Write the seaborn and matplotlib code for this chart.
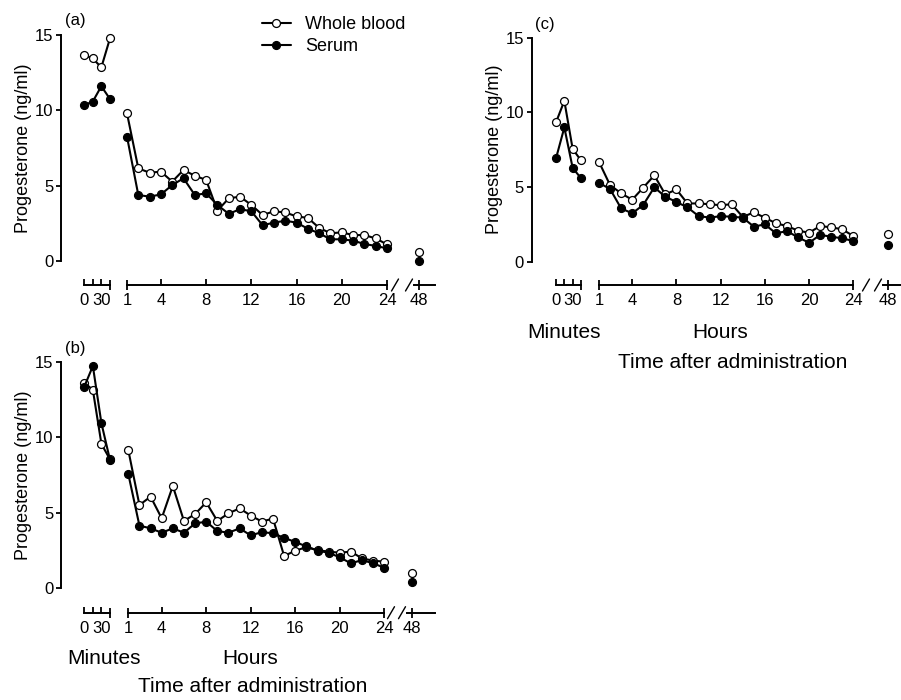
import matplotlib
matplotlib.use("Agg")
import matplotlib.pyplot as plt
from matplotlib.lines import Line2D
import seaborn as sns

# sampling times: minutes after dosing, hourly samples, and the 48 h sample
minutes = [0, 15, 30, 45]
hours = list(range(1, 25))
late = [48]

# panel (a)
a_whole_min = [13.67, 13.45, 12.85, 14.78]
a_serum_min = [10.35, 10.57, 11.6, 10.75]
a_whole_hr = [9.8, 6.15, 5.86, 5.93, 5.27, 6.04, 5.66, 5.38, 3.34, 4.16, 4.27, 3.72,
              3.05, 3.3, 3.22, 2.96, 2.86, 2.2, 1.84, 1.9, 1.72, 1.72, 1.5, 1.1]
a_serum_hr = [8.25, 4.38, 4.27, 4.42, 5.04, 5.49, 4.38, 4.49, 3.72, 3.13, 3.44, 3.3,
              2.37, 2.55, 2.67, 2.55, 2.14, 1.84, 1.44, 1.44, 1.35, 1.13, 1.0, 0.84]
a_whole_48 = [0.58]
a_serum_48 = [0.02]

# panel (b)
b_whole_min = [13.65, 13.16, 9.56, 8.54]
b_serum_min = [13.38, 14.75, 10.94, 8.5]
b_whole_hr = [9.16, 5.5, 6.06, 4.62, 6.77, 4.44, 4.9, 5.68, 4.44, 4.95, 5.28, 4.8,
              4.4, 4.6, 2.11, 2.46, 2.7, 2.5, 2.4, 2.33, 2.4, 1.95, 1.8, 1.73]
b_serum_hr = [7.57, 4.13, 3.95, 3.66, 3.95, 3.66, 4.28, 4.39, 3.77, 3.66, 3.95, 3.48,
              3.7, 3.62, 3.32, 3.04, 2.75, 2.46, 2.33, 2.02, 1.62, 1.84, 1.62, 1.33]
b_whole_48 = [0.96]
b_serum_48 = [0.4]

# panel (c)
c_whole_min = [9.33, 10.77, 7.55, 6.78]
c_serum_min = [6.92, 8.99, 6.28, 5.59]
c_whole_hr = [6.68, 5.13, 4.58, 4.15, 4.96, 5.78, 4.5, 4.84, 3.9, 3.9, 3.85, 3.78,
              3.85, 3.0, 3.3, 2.95, 2.57, 2.39, 2.08, 1.94, 2.39, 2.3, 2.17, 1.72]
c_serum_hr = [5.28, 4.87, 3.57, 3.24, 3.8, 4.98, 4.35, 4.0, 3.64, 3.06, 2.95, 3.05,
              3.01, 2.95, 2.35, 2.5, 1.9, 2.05, 1.63, 1.27, 1.79, 1.68, 1.56, 1.39]
c_whole_48 = [1.83]
c_serum_48 = [1.12]

FIG_W, FIG_H = 901, 700

# where each panel sits, in pixels of the 901x700 figure
layout = {
    "a": dict(yx=61, y0=261, y15=35, xy=285, m0=84, m45=110, h1=127, h24=387,
              h48=419, end=435, brk=(395, 409), tag=(65, 21)),
    "b": dict(yx=61, y0=587.7, y15=362.3, xy=612.7, m0=84.3, m45=110, h1=128.3,
              h24=384.3, h48=412, end=435, brk=(391, 402), tag=(65, 349)),
    "c": dict(yx=531.7, y0=261.7, y15=37.7, xy=285, m0=556, m45=581, h1=599,
              h24=853.3, h48=888.3, end=901, brk=(866, 878), tag=(535, 25)),
}

panels = {
    "a": (a_whole_min, a_serum_min, a_whole_hr, a_serum_hr, a_whole_48, a_serum_48),
    "b": (b_whole_min, b_serum_min, b_whole_hr, b_serum_hr, b_whole_48, b_serum_48),
    "c": (c_whole_min, c_serum_min, c_whole_hr, c_serum_hr, c_whole_48, c_serum_48),
}

sns.set_theme(style="ticks")
plt.rcParams["font.family"] = ["Liberation Sans", "DejaVu Sans"]
plt.rcParams["axes.linewidth"] = 1.4
for k in ["text.color", "axes.labelcolor", "axes.edgecolor", "xtick.color", "ytick.color"]:
    plt.rcParams[k] = "black"

TICK = 12
LABEL = 15


def px_axes(fig, left, right, top, bottom):
    return fig.add_axes([left / FIG_W, 1 - bottom / FIG_H,
                         (right - left) / FIG_W, (bottom - top) / FIG_H])


def draw_series(ax, x, y, filled):
    sns.lineplot(x=x, y=y, ax=ax, color="black", linewidth=1.5, marker="o",
                 markersize=5.7, markerfacecolor="black" if filled else "white",
                 markeredgecolor="black", markeredgewidth=0.9,
                 clip_on=False, errorbar=None, sort=False)


def style_x(ax):
    ax.patch.set_visible(False)
    for side in ["top", "right", "left"]:
        ax.spines[side].set_visible(False)
    ax.tick_params(axis="x", which="major", direction="in", length=4.5, width=1.3,
                   pad=6.0, labelsize=TICK)
    ax.tick_params(axis="x", which="minor", direction="inout", length=7, width=1.3,
                   pad=2.5, labelsize=TICK)


fig = plt.figure(figsize=(FIG_W / 100, FIG_H / 100), dpi=100)
line_handles = None

for key, g in layout.items():
    whole_min, serum_min, whole_hr, serum_hr, whole_48, serum_48 = panels[key]
    ppu = (g["y0"] - g["y15"]) / 15
    ybot = -(g["xy"] - g["y0"]) / ppu

    # minutes segment, which also carries the y axis
    ax_m = px_axes(fig, g["yx"], g["m45"] + 1, g["y15"], g["xy"])
    draw_series(ax_m, minutes, whole_min, False)
    draw_series(ax_m, minutes, serum_min, True)
    ppm = (g["m45"] - g["m0"]) / 45
    ax_m.set_xlim(-(g["m0"] - g["yx"]) / ppm, 45 + 1 / ppm)
    ax_m.set_ylim(ybot, 15)
    style_x(ax_m)
    ax_m.spines["left"].set_visible(True)
    ax_m.spines["left"].set_bounds(0, 15)
    ax_m.spines["bottom"].set_bounds(0, 45)
    ax_m.set_xticks([0, 15, 30], labels=["0", "", "30"])
    ax_m.set_xticks([45], labels=[""], minor=True)
    ax_m.set_yticks([0, 5, 10, 15])
    ax_m.tick_params(axis="y", direction="out", length=3.5, width=1.3, pad=2,
                     labelsize=TICK)
    ax_m.set_xlabel("")
    ax_m.set_ylabel("Progesterone (ng/ml)", fontsize=13)
    w_m = g["m45"] + 1 - g["yx"]
    ax_m.yaxis.set_label_coords(-29 / w_m,
                                (g["xy"] - (g["y0"] + g["y15"]) / 2) / (g["xy"] - g["y15"]))

    # hourly segment
    pph = (g["h24"] - g["h1"]) / 23
    ax_h = px_axes(fig, g["h1"] - 6, g["h24"] + 4, g["y15"], g["xy"])
    draw_series(ax_h, hours, whole_hr, False)
    draw_series(ax_h, hours, serum_hr, True)
    ax_h.set_xlim(1 - 6 / pph, 24 + 4 / pph)
    ax_h.set_ylim(ybot, 15)
    style_x(ax_h)
    ax_h.spines["bottom"].set_bounds(1, 24)
    ax_h.set_yticks([])
    ax_h.set_xticks([4, 8, 12, 16, 20])
    ax_h.set_xticks([1, 24], labels=["1", "24"], minor=True)
    ax_h.set_xlabel("")
    ax_h.set_ylabel("")
    if key == "a":
        line_handles = ax_h.lines[:2]

    # 48 h sample after the break
    ax_l = px_axes(fig, g["h48"] - 5, g["end"], g["y15"], g["xy"])
    draw_series(ax_l, late, whole_48, False)
    draw_series(ax_l, late, serum_48, True)
    ax_l.set_xlim(48 - 5 / pph, 48 + (g["end"] - g["h48"]) / pph)
    ax_l.set_ylim(ybot, 15)
    style_x(ax_l)
    ax_l.set_xticks([])
    ax_l.set_xticks([48], labels=["48"], minor=True)
    ax_l.set_yticks([])
    ax_l.set_xlabel("")
    ax_l.set_ylabel("")

    # axis break marks
    for bx in g["brk"]:
        fig.add_artist(Line2D([(bx - 3.5) / FIG_W, (bx + 3.5) / FIG_W],
                              [1 - (g["xy"] + 6) / FIG_H, 1 - (g["xy"] - 6) / FIG_H],
                              color="black", linewidth=1.0))

    tx, ty = g["tag"]
    fig.text(tx / FIG_W, 1 - ty / FIG_H, f"({key})", ha="left", va="center",
             fontsize=12)

# time captions under panels (b) and (c)
captions = [(104, 659, "Minutes"), (250, 659, "Hours"), (253, 686, "Time after administration"),
            (564, 332, "Minutes"), (720, 332, "Hours"), (733, 362, "Time after administration")]
for cx, cy, txt in captions:
    fig.text(cx / FIG_W, 1 - cy / FIG_H, txt, ha="center", va="center", fontsize=LABEL)

fig.legend(handles=line_handles, labels=["Whole blood", "Serum"], loc="upper left",
           bbox_to_anchor=(262 / FIG_W, 1 - 16 / FIG_H), frameon=False, fontsize=13,
           handlelength=1.6, handletextpad=0.8, labelspacing=0.3, borderpad=0,
           borderaxespad=0)

fig.savefig("out.png", dpi=100)
